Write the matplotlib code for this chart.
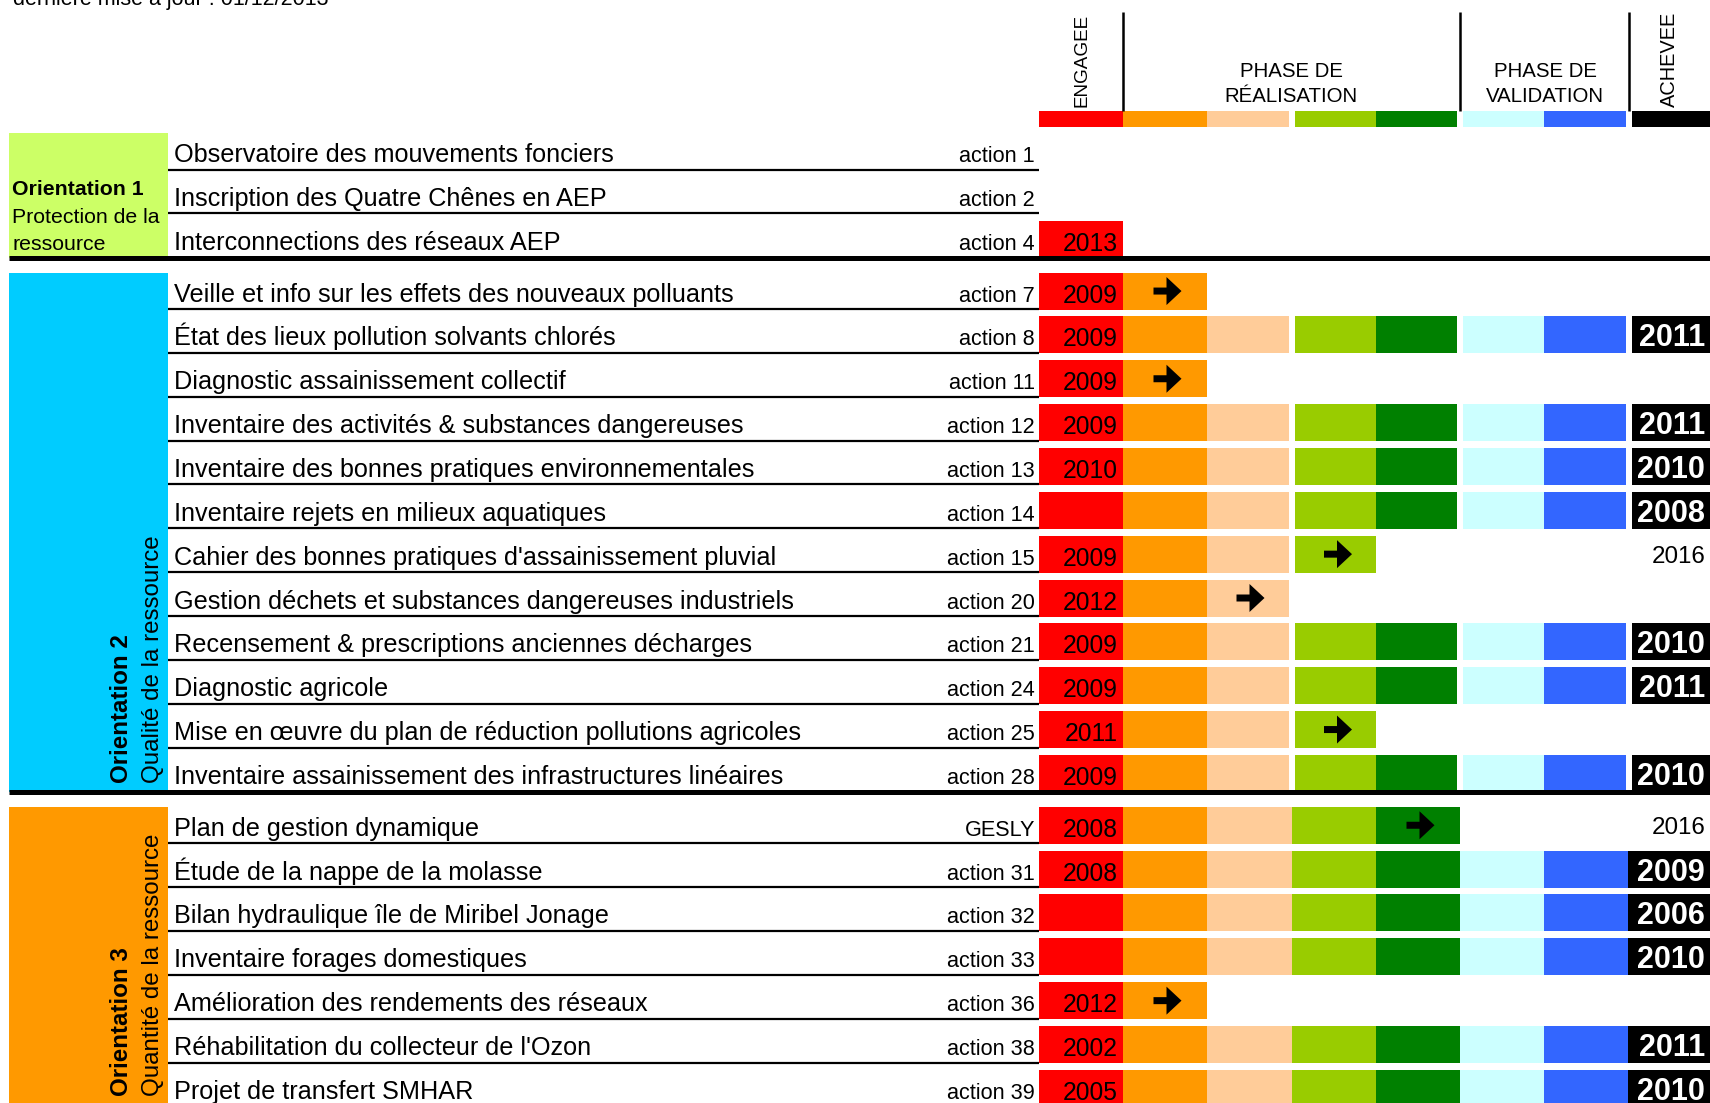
import matplotlib
matplotlib.use("Agg")
import matplotlib.pyplot as plt
from matplotlib.patches import Rectangle, Polygon

plt.rcParams['font.family'] = ['Liberation Sans', 'DejaVu Sans']

# ---------------- data ----------------
update_text = "dernière mise à jour : 01/12/2013"

orientation_titles = ["Orientation 1", "Orientation 2", "Orientation 3"]
orientation_subtitles = ["Protection de la ressource", "Qualité de la ressource", "Quantité de la ressource"]
orientation_colors = ["#CCFF66", "#00CCFF", "#FF9900"]
orientation_sizes = [3, 12, 7]

action_names = [
    "Observatoire des mouvements fonciers",
    "Inscription des Quatre Chênes en AEP",
    "Interconnections des réseaux AEP",
    "Veille et info sur les effets des nouveaux polluants",
    "État des lieux pollution solvants chlorés",
    "Diagnostic assainissement collectif",
    "Inventaire des activités & substances dangereuses",
    "Inventaire des bonnes pratiques environnementales",
    "Inventaire rejets en milieux aquatiques",
    "Cahier des bonnes pratiques d'assainissement pluvial",
    "Gestion déchets et substances dangereuses industriels",
    "Recensement & prescriptions anciennes décharges",
    "Diagnostic agricole",
    "Mise en œuvre du plan de réduction pollutions agricoles",
    "Inventaire assainissement des infrastructures linéaires",
    "Plan de gestion dynamique",
    "Étude de la nappe de la molasse",
    "Bilan hydraulique île de Miribel Jonage",
    "Inventaire forages domestiques",
    "Amélioration des rendements des réseaux",
    "Réhabilitation du collecteur de l'Ozon",
    "Projet de transfert SMHAR",
]
action_codes = ["action 1", "action 2", "action 4",
                "action 7", "action 8", "action 11", "action 12", "action 13", "action 14",
                "action 15", "action 20", "action 21", "action 24", "action 25", "action 28",
                "GESLY", "action 31", "action 32", "action 33", "action 36", "action 38", "action 39"]
start_years = ["", "", "2013",
               "2009", "2009", "2009", "2009", "2010", "", "2009", "2012", "2009", "2009", "2011", "2009",
               "2008", "2008", "", "", "2012", "2002", "2005"]
stages_reached = [0, 0, 1,
                  2, 8, 2, 8, 8, 8, 4, 3, 8, 8, 4, 8,
                  5, 8, 8, 8, 2, 8, 8]
in_progress = [False, False, False,
               True, False, True, False, False, False, True, True, False, False, True, False,
               True, False, False, False, True, False, False]
end_labels = ["", "", "",
              "", "2011", "", "2011", "2010", "2008", "2016", "", "2010", "2011", "", "2010",
              "2016", "2009", "2006", "2010", "", "2011", "2010"]

stage_colors = ["#FF0000", "#FF9900", "#FFCC99", "#99CC00", "#008000", "#CCFFFF", "#3366FF", "#000000"]
header_groups = ["ENGAGEE", "PHASE DE\nRÉALISATION", "PHASE DE\nVALIDATION", "ACHEVEE"]

# ---------------- layout (pixel space) ----------------
W, H = 1710, 1103
col_left_a = [1039, 1123, 1207, 1295, 1376, 1463, 1544, 1632]
col_right_a = [1123, 1207, 1289, 1376, 1457, 1544, 1626, 1710]
col_left_b = [1039, 1123, 1207, 1292, 1376, 1460, 1544, 1628]
col_right_b = [1123, 1207, 1292, 1376, 1460, 1544, 1628, 1710]
PITCH, SECTION_EXTRA, CELL_H = 43.85, 8, 37
BOX_L, BOX_R = 9, 168
LABEL_X, CODE_X, YEAR_PAD, END_X = 174, 1035, 5, 1705

fig = plt.figure(figsize=(W / 100, H / 100), dpi=100)
ax = fig.add_axes([0, 0, 1, 1])
ax.set_xlim(0, W)
ax.set_ylim(H, 0)
ax.axis('off')

ax.text(13, 5, update_text, fontsize=15.5, ha='left', va='baseline')

# header
for x in [1123, 1460, 1629]:
    ax.plot([x, x], [12, 111], color='black', lw=1.8, solid_capstyle='butt')
for c in range(8):
    ax.add_patch(Rectangle((col_left_a[c], 111), col_right_a[c] - col_left_a[c], 16,
                           facecolor=stage_colors[c], edgecolor='none'))
ax.text(1082, 107, header_groups[0], rotation=90, rotation_mode='anchor',
        ha='left', va='center', fontsize=13.6)
ax.text(1669, 107, header_groups[3], rotation=90, rotation_mode='anchor',
        ha='left', va='center', fontsize=14.4)
for txt, cx in [(header_groups[1], 1291), (header_groups[2], 1545)]:
    l1, l2 = txt.split("\n")
    ax.text(cx, 77, l1, ha='center', va='baseline', fontsize=14.7)
    ax.text(cx, 102, l2, ha='center', va='baseline', fontsize=14.7)

# rows
section_of_row = []
for s, n in enumerate(orientation_sizes):
    section_of_row += [s] * n

bottoms = []
y = 170.0
for i, s in enumerate(section_of_row):
    if i > 0:
        y += PITCH + (SECTION_EXTRA if s != section_of_row[i - 1] else 0)
    bottoms.append(y)

for i, name in enumerate(action_names):
    b = bottoms[i]
    s = section_of_row[i]
    lefts, rights = (col_left_b, col_right_b) if s == 2 else (col_left_a, col_right_a)
    ax.text(LABEL_X, b - 8, name, fontsize=18.2, ha='left', va='baseline')
    ax.text(CODE_X, b - 8, action_codes[i], fontsize=15.6, ha='right', va='baseline')
    last_in_section = (i == len(section_of_row) - 1) or section_of_row[i + 1] != s
    if not last_in_section:
        ax.plot([BOX_R, lefts[0]], [b - 0.5, b - 0.5], color='black', lw=1.6, solid_capstyle='butt')
    for c in range(stages_reached[i]):
        ax.add_patch(Rectangle((lefts[c], b - CELL_H), rights[c] - lefts[c], CELL_H,
                               facecolor=stage_colors[c], edgecolor='none'))
    if start_years[i]:
        ax.text(rights[0] - YEAR_PAD, b - 7, start_years[i], fontsize=17.7, ha='right', va='baseline')
    if in_progress[i]:
        c = stages_reached[i] - 1
        cx = (lefts[c] + rights[c]) / 2 + 2.5
        cy = b - CELL_H / 2
        ax.add_patch(Polygon([(cx - 14, cy - 3.5), (cx - 1, cy - 3.5), (cx - 1, cy - 14),
                              (cx + 14, cy), (cx - 1, cy + 14), (cx - 1, cy + 3.5),
                              (cx - 14, cy + 3.5)], closed=True, facecolor='black', edgecolor='none'))
    if end_labels[i]:
        if stages_reached[i] == 8:
            ax.text(END_X, b - 7, end_labels[i], fontsize=22, fontweight='bold',
                    color='white', ha='right', va='baseline')
        else:
            ax.text(END_X, b - 9.5, end_labels[i], fontsize=17.4, ha='right', va='baseline')

# orientation boxes and section lines
start = 0
for s, n in enumerate(orientation_sizes):
    first_b, last_b = bottoms[start], bottoms[start + n - 1]
    top = first_b - CELL_H
    ax.add_patch(Rectangle((BOX_L, top), BOX_R - BOX_L, last_b - top,
                           facecolor=orientation_colors[s], edgecolor='none', zorder=0.5))
    ax.plot([BOX_L, W], [last_b + 0.5, last_b + 0.5], color='black', lw=3.6, solid_capstyle='butt')
    if s == 0:
        sub = orientation_subtitles[s].rsplit(" ", 1)
        ax.text(12, last_b - 63, orientation_titles[s], fontsize=15.3, fontweight='bold',
                ha='left', va='baseline')
        ax.text(12, last_b - 35, sub[0], fontsize=15.3, ha='left', va='baseline')
        ax.text(12, last_b - 8, sub[1], fontsize=15.3, ha='left', va='baseline')
    else:
        y_start = min(last_b - 9, H - 7)
        ax.text(128, y_start, orientation_titles[s], fontsize=17.4, fontweight='bold',
                rotation=90, rotation_mode='anchor', ha='left', va='baseline')
        ax.text(159, y_start, orientation_subtitles[s], fontsize=17.4,
                rotation=90, rotation_mode='anchor', ha='left', va='baseline')
    start += n

fig.savefig("out.png", dpi=100)
